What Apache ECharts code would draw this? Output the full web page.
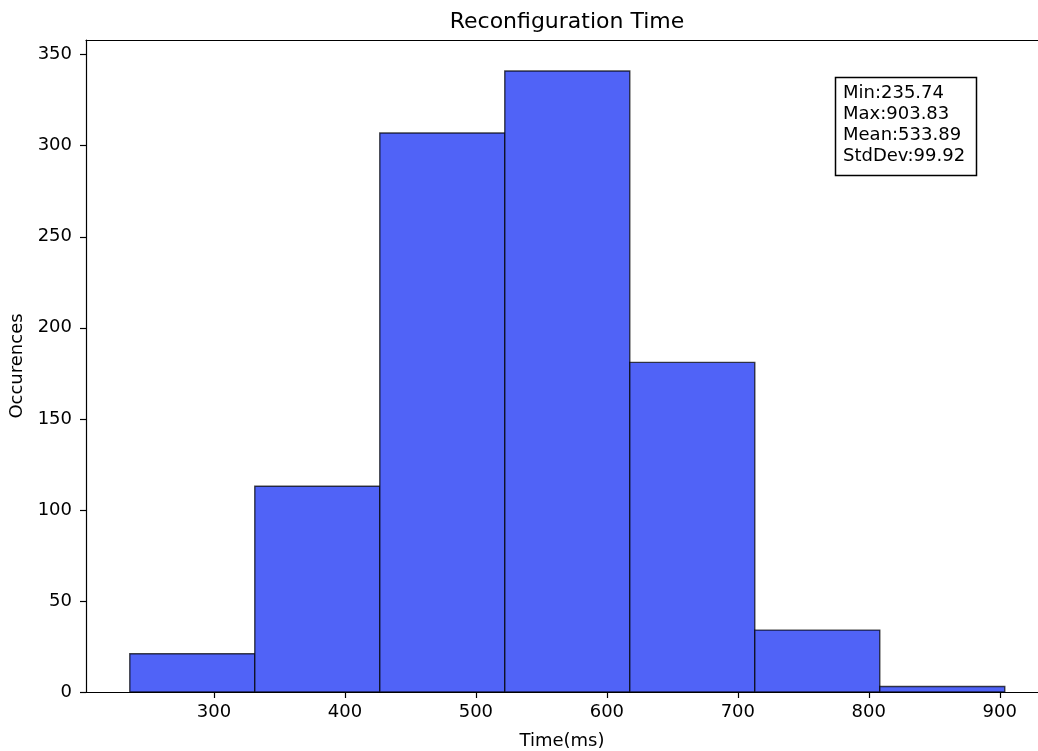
<!DOCTYPE html>
<html>
<head>
<meta charset="utf-8">
<script src="https://cdn.jsdelivr.net/npm/echarts@6/dist/echarts.min.js"></script>
<style>
html,body{margin:0;padding:0;background:#fff;}
#chart{width:1038px;height:751px;}
</style>
</head>
<body>
<div id="chart"></div>
<script>
// Histogram bin edges (ms) and counts
const binEdges = [235.74, 331.18, 426.63, 522.07, 617.51, 712.95, 808.39, 903.83];
const counts = [21, 113, 307, 341, 181, 34, 3];
const xTicks = [300, 400, 500, 600, 700, 800, 900];
const yTicks = [0, 50, 100, 150, 200, 250, 300, 350];
const statsLines = ['Min:235.74', 'Max:903.83', 'Mean:533.89', 'StdDev:99.92'];

const FONT = 'DejaVu Sans';
const data = counts.map((c, i) => [binEdges[i], binEdges[i + 1], c]);
const X_MIN = 202.3, X_MAX = 929.2;

const chart = echarts.init(document.getElementById('chart'), null, {renderer: 'canvas'});
chart.setOption({
  animation: false,
  backgroundColor: '#fff',
  grid: {left: 86, top: 40, right: 0, bottom: 59, containLabel: false, outerBoundsMode: 'none'},
  graphic: [
    {type: 'text', x: 567, y: 11, style: {text: 'Reconfiguration Time', font: '22px "' + FONT + '"', fill: '#000', align: 'center', verticalAlign: 'top'}},
    {type: 'rect', shape: {x: 835.5, y: 77.5, width: 141, height: 98}, style: {fill: '#fff', stroke: '#000', lineWidth: 1.5}, z: 100},
    {type: 'text', x: 843, y: 83, z: 101, style: {text: statsLines.join('\n'), font: '18px "' + FONT + '"', lineHeight: 21, fill: '#000', align: 'left', verticalAlign: 'top'}}
  ],
  xAxis: [{
    type: 'value', min: X_MIN, max: X_MAX, position: 'bottom',
    name: 'Time(ms)', nameLocation: 'middle', nameGap: 40,
    nameTextStyle: {fontFamily: FONT, fontSize: 18, color: '#000'},
    axisLine: {show: true, lineStyle: {color: '#000', width: 1.2}},
    axisTick: {show: true, length: 6, inside: false, customValues: xTicks, lineStyle: {color: '#000', width: 1.2}},
    axisLabel: {customValues: xTicks, margin: 11, fontFamily: FONT, fontSize: 18, color: '#000'},
    splitLine: {show: false}
  }, {
    type: 'value', min: X_MIN, max: X_MAX, position: 'top',
    axisLine: {show: true, onZero: false, lineStyle: {color: '#000', width: 1.2}},
    axisTick: {show: false}, axisLabel: {show: false}, splitLine: {show: false}
  }],
  yAxis: {
    type: 'value', min: 0, max: 358.05,
    name: 'Occurences', nameLocation: 'middle', nameGap: 52,
    nameTextStyle: {fontFamily: FONT, fontSize: 18, color: '#000'},
    axisLine: {show: true, lineStyle: {color: '#000', width: 1.2}},
    axisTick: {show: true, length: 6, inside: false, customValues: yTicks, lineStyle: {color: '#000', width: 1.2}},
    axisLabel: {customValues: yTicks, margin: 14, fontFamily: FONT, fontSize: 18, color: '#000'},
    splitLine: {show: false}
  },
  series: [{
    type: 'custom',
    xAxisIndex: 0,
    data: data,
    encode: {x: [0, 1], y: 2},
    renderItem: function (params, api) {
      const p0 = api.coord([api.value(0), 0]);
      const p1 = api.coord([api.value(1), api.value(2)]);
      return {
        type: 'rect',
        shape: {x: p0[0], y: p1[1], width: p1[0] - p0[0], height: p0[1] - p1[1]},
        style: {fill: '#5063f7', stroke: 'rgba(0,0,0,0.72)', lineWidth: 1.4}
      };
    }
  }]
});
</script>
</body>
</html>
